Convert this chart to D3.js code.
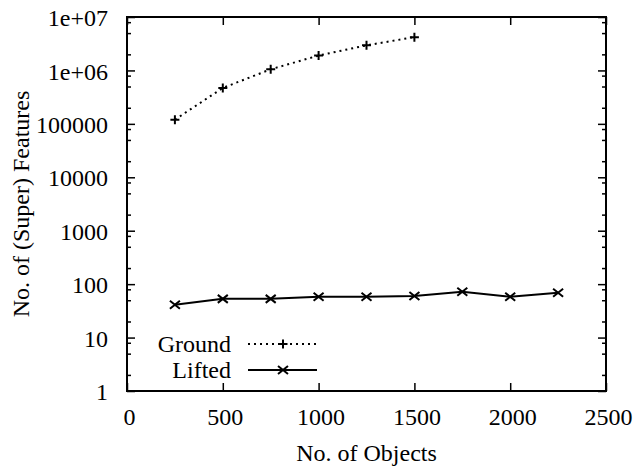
<!DOCTYPE html>
<html lang="en">
<head>
<meta charset="UTF-8">
<title>Features</title>
<script src="https://cdn.jsdelivr.net/npm/d3@7"></script>
<style>
  body { margin: 0; background: #fff; }
  text { font-family: "Liberation Serif", "Times New Roman", serif; fill: #000; }
</style>
</head>
<body>
<svg id="chart" width="636" height="466"></svg>
<script>
    // data
    var groundX = [250, 500, 750, 1000, 1250, 1500];
    var groundY = [120000, 470000, 1050000, 1900000, 2950000, 4200000];
    var liftedX = [250, 500, 750, 1000, 1250, 1500, 1750, 2000, 2250];
    var liftedY = [41, 53, 53, 58, 58, 60, 72, 58, 69];
    var xTicks = [0, 500, 1000, 1500, 2000, 2500];
    var yTicks = [1, 10, 100, 1000, 10000, 100000, 1e6, 1e7];
    var yTickLabels = ["1", "10", "100", "1000", "10000", "100000", "1e+06", "1e+07"];
    var seriesNames = ["Ground", "Lifted"];

    var pLeft = 127, pRight = 606, pTop = 17, pBottom = 391;
    var FONT = "Liberation Serif";

    var svg = d3.select("#chart");
    var x = d3.scaleLinear().domain([0, 2500]).range([pLeft, pRight]);
    var y = d3.scaleLog().domain([1, 1e7]).range([pBottom, pTop]);

    // minor ticks at 2,5,8 of each decade
    var minor = [];
    for (var i = 0; i < yTicks.length - 1; i++) {
        [2, 5, 8].forEach(function(m) { minor.push(yTicks[i] * m); });
    }

    function thin(s) { s.select(".domain").remove(); s.selectAll("line").attr("stroke-width", 1.5); }

    var g = svg.append("g");

    // left axis
    var yAxis = d3.axisLeft(y).tickValues(yTicks)
        .tickFormat(function(d, i) { return yTickLabels[i]; })
        .tickSize(-8).tickPadding(19);
    var ya = g.append("g").attr("transform", "translate(" + pLeft + ",0)").call(yAxis).call(thin);
    ya.selectAll("text").attr("font-size", 24).style("font-family", FONT).attr("dy", "0.36em");

    g.append("g").attr("transform", "translate(" + pLeft + ",0)")
        .call(d3.axisLeft(y).tickValues(minor).tickSize(-4).tickFormat("")).call(thin);

    // right mirror ticks
    g.append("g").attr("transform", "translate(" + pRight + ",0)")
        .call(d3.axisRight(y).tickValues(yTicks).tickSize(-8).tickFormat("")).call(thin);
    g.append("g").attr("transform", "translate(" + pRight + ",0)")
        .call(d3.axisRight(y).tickValues(minor).tickSize(-4).tickFormat("")).call(thin);

    // bottom axis
    var xa = g.append("g").attr("transform", "translate(0," + pBottom + ")")
        .call(d3.axisBottom(x).tickValues(xTicks).tickFormat(d3.format("d")).tickSize(-8).tickPadding(14))
        .call(thin);
    xa.selectAll("text").attr("font-size", 24).style("font-family", FONT)
        .attr("dy", "0.85em").attr("dx", 2);

    // top mirror ticks
    g.append("g").attr("transform", "translate(0," + pTop + ")")
        .call(d3.axisTop(x).tickValues(xTicks).tickSize(-8).tickFormat("")).call(thin);

    // frame
    g.append("rect").attr("x", pLeft).attr("y", pTop)
        .attr("width", pRight - pLeft).attr("height", pBottom - pTop)
        .attr("fill", "none").attr("stroke", "#000").attr("stroke-width", 2);

    // axis titles
    svg.append("text").attr("x", (pLeft + pRight) / 2).attr("y", 461)
        .attr("text-anchor", "middle").attr("font-size", 24).style("font-family", FONT)
        .text("No. of Objects");
    svg.append("text").attr("transform", "translate(29," + (pTop + pBottom) / 2 + ") rotate(-90)")
        .attr("text-anchor", "middle").attr("font-size", 24).style("font-family", FONT)
        .text("No. of (Super) Features");

    var line = d3.line().x(function(d) { return x(d[0]); }).y(function(d) { return y(d[1]); });

    var ground = groundX.map(function(v, i) { return [v, groundY[i]]; });
    var lifted = liftedX.map(function(v, i) { return [v, liftedY[i]]; });

    function plus(sel, cx, cy) {
        sel.append("path")
            .attr("d", "M" + (cx - 4.5) + "," + cy + "h9M" + cx + "," + (cy - 4.5) + "v9")
            .attr("stroke", "#000").attr("stroke-width", 2);
    }
    function cross(sel, cx, cy) {
        sel.append("path")
            .attr("d", "M" + (cx - 5) + "," + (cy - 4) + "L" + (cx + 5) + "," + (cy + 4) +
                "M" + (cx - 5) + "," + (cy + 4) + "L" + (cx + 5) + "," + (cy - 4))
            .attr("stroke", "#000").attr("stroke-width", 2);
    }

    svg.append("path").datum(ground).attr("d", line)
        .attr("fill", "none").attr("stroke", "#000").attr("stroke-width", 2)
        .attr("stroke-dasharray", "2,4");
    ground.forEach(function(d) { plus(svg, x(d[0]), y(d[1])); });

    svg.append("path").datum(lifted).attr("d", line)
        .attr("fill", "none").attr("stroke", "#000").attr("stroke-width", 2);
    lifted.forEach(function(d) { cross(svg, x(d[0]), y(d[1])); });

    // legend
    var lg = svg.append("g");
    var ly = [344, 370];
    seriesNames.forEach(function(name, i) {
        lg.append("text").attr("x", 231).attr("y", ly[i] + 8)
            .attr("text-anchor", "end").attr("font-size", 24).style("font-family", FONT).text(name);
        lg.append("line").attr("x1", 248).attr("x2", 317).attr("y1", ly[i]).attr("y2", ly[i])
            .attr("stroke", "#000").attr("stroke-width", 2)
            .attr("stroke-dasharray", i === 0 ? "2,4" : null);
        if (i === 0) plus(lg, 283, ly[i]); else cross(lg, 283, ly[i]);
    });
</script>
</body>
</html>
